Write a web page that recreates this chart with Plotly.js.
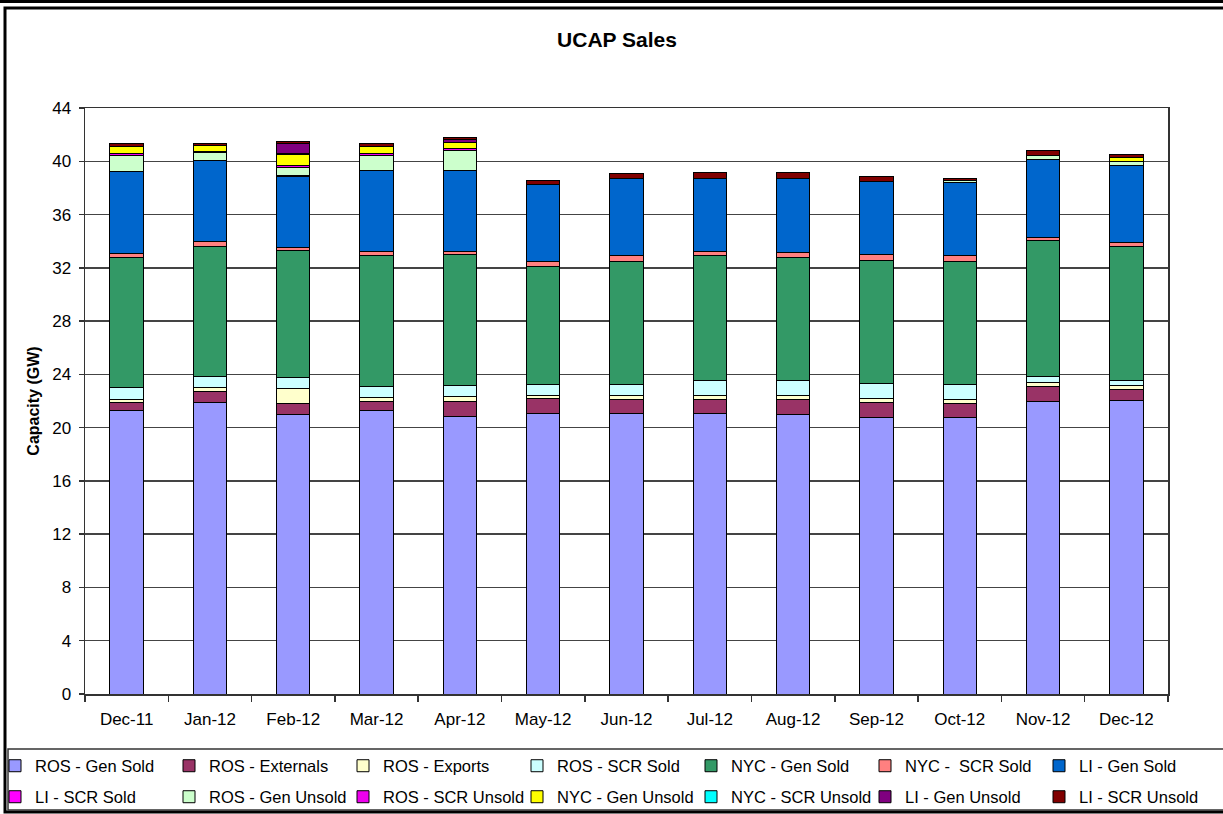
<!DOCTYPE html>
<html><head><meta charset="utf-8">
<script src="https://cdn.plot.ly/plotly-3.0.1.min.js"></script>
<style>html,body{margin:0;padding:0;background:#fff}#chart{width:1223px;height:814px}</style>
</head><body><div id="chart"></div>
<script>
// ---- data (GW) ----
const months = ['Dec-11','Jan-12','Feb-12','Mar-12','Apr-12','May-12','Jun-12','Jul-12','Aug-12','Sep-12','Oct-12','Nov-12','Dec-12'];
const seriesNames = ['ROS - Gen Sold','ROS - Externals','ROS - Exports','ROS - SCR Sold','NYC - Gen Sold','NYC -  SCR Sold','LI - Gen Sold',
                     'LI - SCR Sold','ROS - Gen Unsold','ROS - SCR Unsold','NYC - Gen Unsold','NYC - SCR Unsold','LI - Gen Unsold','LI - SCR Unsold'];
const rosGenSold    = [21.25, 21.87, 20.97, 21.25, 20.82, 21.07, 21.07, 21.07, 20.99, 20.75, 20.75, 22.00, 22.07];
const rosExternals  = [0.62, 0.83, 0.83, 0.72, 1.15, 1.13, 1.05, 1.05, 1.13, 1.15, 1.07, 1.12, 0.81];
const rosExports    = [0.28, 0.30, 1.12, 0.33, 0.35, 0.22, 0.30, 0.30, 0.30, 0.30, 0.30, 0.30, 0.30];
const rosScrSold    = [0.85, 0.83, 0.83, 0.82, 0.83, 0.83, 0.83, 1.15, 1.15, 1.12, 1.10, 0.43, 0.34];
const nycGenSold    = [9.78, 9.80, 9.56, 9.78, 9.83, 8.83, 9.25, 9.33, 9.23, 9.26, 9.28, 10.23, 10.06];
const nycScrSold    = [0.30, 0.33, 0.22, 0.30, 0.25, 0.40, 0.40, 0.30, 0.38, 0.42, 0.40, 0.20, 0.35];
const liGenSold     = [6.18, 6.08, 5.31, 6.14, 6.11, 5.81, 5.81, 5.51, 5.53, 5.51, 5.54, 5.86, 5.78];
const liScrSold     = [0, 0, 0.12, 0, 0, 0, 0, 0, 0, 0, 0, 0, 0];
const rosGenUnsold  = [1.20, 0.60, 0.56, 1.10, 1.50, 0, 0, 0, 0, 0, 0.15, 0.33, 0.30];
const rosScrUnsold  = [0.10, 0.12, 0.13, 0.12, 0.10, 0, 0, 0, 0, 0, 0, 0, 0];
const nycGenUnsold  = [0.55, 0.43, 0.88, 0.55, 0.48, 0, 0, 0, 0, 0, 0, 0, 0.24];
const nycScrUnsold  = [0, 0, 0.05, 0, 0, 0, 0, 0, 0, 0, 0, 0, 0];
const liGenUnsold   = [0, 0, 0.75, 0, 0.20, 0, 0, 0, 0, 0, 0, 0, 0];
const liScrUnsold   = [0.25, 0.17, 0.15, 0.25, 0.18, 0.25, 0.37, 0.48, 0.48, 0.33, 0.15, 0.32, 0.23];
const yTicks = [0, 4, 8, 12, 16, 20, 24, 28, 32, 36, 40, 44];

// ---- style ----
const seriesValues = [rosGenSold, rosExternals, rosExports, rosScrSold, nycGenSold, nycScrSold, liGenSold,
                      liScrSold, rosGenUnsold, rosScrUnsold, nycGenUnsold, nycScrUnsold, liGenUnsold, liScrUnsold];
const seriesColors = ['#9999FF','#993366','#FFFFCC','#CCFFFF','#339966','#FF8080','#0066CC',
                      '#FF00FF','#CCFFCC','#EE00EE','#FFFF00','#00FFFF','#800080','#800000'];
const legendOf = i => i < 6 ? 'legend' : (i === 6 ? 'legend2' : (i < 13 ? 'legend3' : 'legend4'));

const FONT = 'Liberation Sans, Arial, sans-serif';
const traces = seriesNames.map((name, i) => ({
  type: 'bar', name: name, x: months, y: seriesValues[i],
  marker: { color: seriesColors[i], line: { color: '#000', width: 1 } },
  legend: legendOf(i), hoverinfo: 'x+y+name'
}));

// pixel helpers for paper coords (plot area 85..1168 x, 108..694 y)
const L = 85, R = 1168, T = 108, B = 694;
const px = v => (v - L) / (R - L);
const py = v => (B - v) / (B - T);

const legendBase = (x, y) => ({
  orientation: 'h', x: px(x), xanchor: 'left', y: py(y), yanchor: 'middle',
  font: { family: FONT, size: 16.5, color: '#000' }, entrywidth: 129, entrywidthmode: 'pixels',
  traceorder: 'normal', bgcolor: 'rgba(0,0,0,0)', borderwidth: 0
});

const LX = -5;
const layout = {
  width: 1223, height: 814,
  margin: { l: L, r: 1223 - R, t: T, b: 814 - B, autoexpand: false },
  paper_bgcolor: '#fff', plot_bgcolor: '#fff',
  barmode: 'stack', bargap: 0.6,
  font: { family: FONT, size: 16, color: '#000' },
  title: { text: '<b>UCAP Sales</b>', font: { family: FONT, size: 21, color: '#000' },
           xref: 'container', x: 617 / 1223, xanchor: 'center', yref: 'container', y: 1 - 40 / 814, yanchor: 'middle' },
  xaxis: { type: 'category', showline: true, linecolor: '#333', linewidth: 1.5, mirror: true,
           ticks: 'outside', tickson: 'boundaries', ticklen: 6, tickcolor: '#333', tickwidth: 1.5,
           ticklabelstandoff: 9,
           tickfont: { family: FONT, size: 17, color: '#000' }, showgrid: false, zeroline: false },
  yaxis: { range: [0, 44], tickvals: yTicks, ticktext: yTicks.map(String), showline: true, linecolor: '#333', linewidth: 1.5, mirror: true,
           ticks: 'outside', ticklen: 5, tickcolor: '#333', tickwidth: 1.5, ticklabelstandoff: 4,
           tickfont: { family: FONT, size: 17, color: '#000' },
           showgrid: true, gridcolor: '#444', gridwidth: 1.5, zeroline: false,
           title: { text: '<b>Capacity (GW)</b>', font: { family: FONT, size: 16, color: '#000' }, standoff: 8 } },
  showlegend: true,
  legend: legendBase(LX, 766),
  legend2: legendBase(LX + 6 * 174, 766),
  legend3: legendBase(LX, 797),
  legend4: legendBase(LX + 6 * 174, 797),
  shapes: [
    { type: 'line', xref: 'paper', yref: 'paper', x0: px(-5), x1: px(1230), y0: py(1.5), y1: py(1.5), line: { color: '#000', width: 3 } },
    { type: 'rect', xref: 'paper', yref: 'paper', x0: px(5), x1: px(1232), y0: py(8), y1: py(812), line: { color: '#000', width: 3 } },
    { type: 'rect', xref: 'paper', yref: 'paper', x0: px(8), x1: px(1232), y0: py(749), y1: py(810), line: { color: '#333', width: 1.5 } }
  ]
};

Plotly.newPlot('chart', traces, layout, { displayModeBar: false, staticPlot: true });
</script></body></html>
